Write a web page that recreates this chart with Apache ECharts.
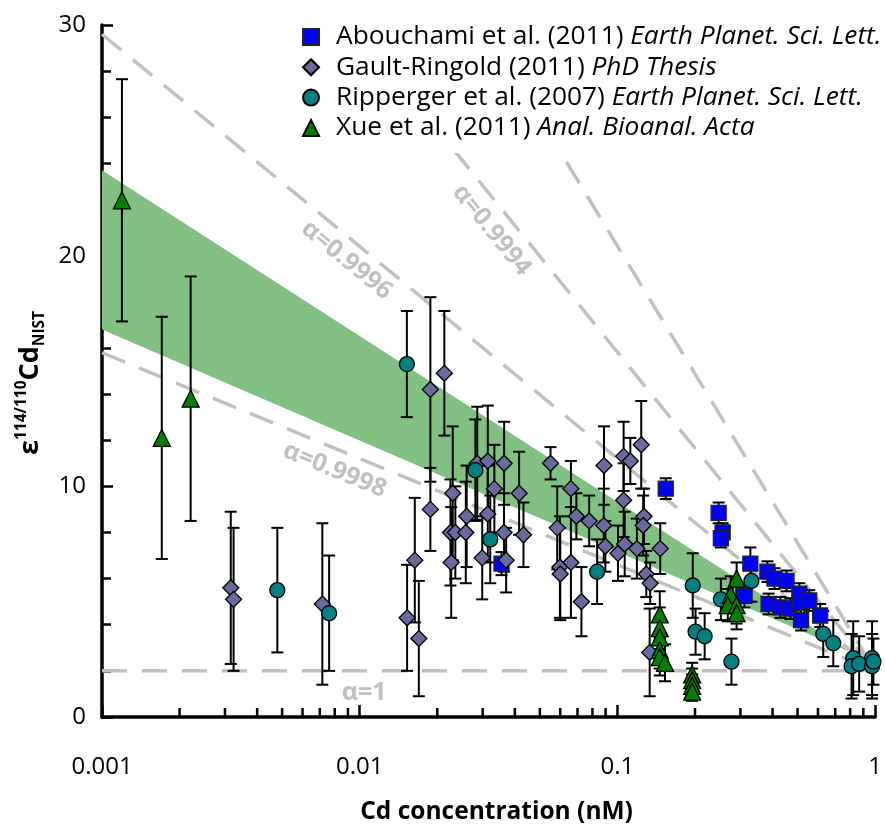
<!DOCTYPE html>
<html><head><meta charset="utf-8">
<script src="https://cdn.jsdelivr.net/npm/echarts@6/dist/echarts.min.js"></script>
<style>html,body{margin:0;padding:0;background:#fff}#c{width:885px;height:830px}</style>
</head><body><div id="c"></div>
<script>
const FONT = '"Open Sans", "Noto Sans", sans-serif';

// ---- Abouchami et al. (2011) ----
const abouConc = [0.0355, 0.154, 0.247, 0.256, 0.252, 0.328, 0.311, 0.382, 0.407, 0.453, 0.386, 0.429, 0.469, 0.508, 0.512, 0.555, 0.516, 0.612];
const abouEps  = [6.65, 9.9, 8.85, 8.0, 7.75, 6.65, 5.25, 6.3, 6.0, 5.9, 4.9, 4.75, 4.7, 5.35, 4.95, 5.05, 4.2, 4.4];
const abouErr  = [0.5, 0.45, 0.45, 0.4, 0.4, 0.7, 0.5, 0.45, 0.45, 0.45, 0.45, 0.45, 0.45, 0.45, 0.45, 0.45, 0.45, 0.5];

// ---- Gault-Ringold (2011) ----
const gaultConc = [0.00316, 0.00324, 0.00716, 0.01527, 0.01636, 0.01696, 0.0188, 0.0188, 0.0213, 0.02296,
  0.0225, 0.0235, 0.02265, 0.026, 0.0258, 0.02858, 0.0314, 0.0314, 0.02988, 0.0333,
  0.03634, 0.0363, 0.037, 0.04155, 0.0432, 0.055, 0.0584, 0.0598, 0.0600, 0.066,
  0.066, 0.0693, 0.0725, 0.0777, 0.0887, 0.0885, 0.0898, 0.1005, 0.1057, 0.1122,
  0.1057, 0.1067, 0.119, 0.1237, 0.1268, 0.1258, 0.1466, 0.1294, 0.134, 0.1334];
const gaultEps = [5.6, 5.1, 4.9, 4.3, 6.8, 3.4, 14.2, 9.0, 14.9, 9.7,
  8.0, 8.0, 6.7, 8.7, 8.0, 11.0, 11.1, 8.8, 6.9, 9.9,
  11.0, 8.0, 6.8, 9.7, 7.9, 11.0, 8.2, 6.5, 6.2, 9.9,
  6.7, 8.7, 5.0, 8.5, 10.9, 8.3, 7.4, 7.1, 11.3, 11.1,
  9.4, 7.5, 7.3, 11.8, 8.7, 8.3, 7.3, 6.2, 5.8, 2.8];
const gaultErr = [3.3, 3.1, 3.5, 2.3, 2.7, 2.5, 4.0, 1.8, 2.7, 2.9,
  2.3, 2.0, 2.4, 2.2, 2.2, 2.45, 2.4, 2.1, 1.8, 1.9,
  1.8, 1.7, 1.4, 1.8, 1.4, 0.7, 1.8, 2.2, 2.0, 1.2,
  2.4, 1.0, 1.5, 1.1, 1.7, 1.6, 1.1, 1.2, 1.5, 1.0,
  1.6, 1.4, 1.3, 1.9, 1.2, 1.3, 1.1, 1.0, 0.9, 1.9];

// ---- Ripperger et al. (2007) ----
const ripConc = [0.00479, 0.00761, 0.01524, 0.0281, 0.0321, 0.0834, 0.196, 0.201, 0.218, 0.277,
  0.252, 0.331, 0.629, 0.688, 0.822, 0.81, 0.867, 0.973, 0.973, 0.985];
const ripEps  = [5.5, 4.5, 15.3, 10.7, 7.7, 6.3, 5.7, 3.7, 3.5, 2.4,
  5.1, 5.9, 3.6, 3.2, 2.55, 2.2, 2.3, 2.55, 2.2, 2.4];
const ripErr  = [2.7, 2.5, 2.3, 2.2, 1.9, 1.4, 1.4, 1.0, 1.0, 1.0,
  0.9, 0.9, 1.0, 1.0, 1.6, 1.4, 1.2, 1.6, 1.4, 1.0];

// ---- Xue et al. (2011) ----
const xueConc = [0.001195, 0.001706, 0.002208, 0.146, 0.146, 0.146, 0.146, 0.146, 0.153,
  0.195, 0.195, 0.195, 0.195, 0.29, 0.275, 0.268, 0.29, 0.29];
const xueEps  = [22.4, 12.1, 13.8, 4.45, 3.85, 3.45, 2.9, 2.6, 2.35,
  1.85, 1.6, 1.35, 1.1, 6.0, 5.3, 4.85, 4.85, 4.5];
const xueErr  = [5.25, 5.25, 5.3, 1.0, 0.9, 0.9, 0.8, 0.8, 0.8,
  0.5, 0.5, 0.5, 0.4, 0.7, 0.8, 0.7, 0.8, 0.7];

// ---- Rayleigh fractionation lines (concentration, epsilon endpoints) ----
const alphaNames = ['α=1', 'α=0.9998', 'α=0.9996', 'α=0.9994', ''];
const alphaLines = [
  [[0.001, 2], [1, 2]],
  [[0.001, 15.8], [1, 2]],
  [[0.001, 29.6], [1, 2]],
  [[0.0094, 30], [1, 2]],
  [[0.0302, 30], [1, 2]]
];
const alphaLabelAt = [[0.0104, 1.05], [0.0080, 10.7], [0.0089, 19.8], [0.0325, 21.1]];

// ---- green envelope ----
const bandTop = [[0.001, 23.7], [0.81, 2.8]];
const bandBottom = [[0.001, 16.8], [0.81, 2.8]];

// ---- axes ----
const xTickValues = [0.001, 0.01, 0.1, 1];
const xTickLabels = ['0.001', '0.01', '0.1', '1'];
const xMinorTicks = [0.002,0.003,0.004,0.005,0.006,0.007,0.008,0.009,
  0.02,0.03,0.04,0.05,0.06,0.07,0.08,0.09,
  0.2,0.3,0.4,0.5,0.6,0.7,0.8,0.9];

const legendText = {
  'Abouchami': '{r|Abouchami et al. (2011) }{i|Earth Planet. Sci. Lett.}',
  'Gault': '{r|Gault-Ringold (2011) }{i|PhD Thesis}',
  'Ripperger': '{r|Ripperger et al. (2007) }{i|Earth Planet. Sci. Lett.}',
  'Xue': '{r|Xue et al. (2011) }{i|Anal. Bioanal. Acta}'
};

function pts(c, e) { return c.map((v, i) => [v, e[i]]); }
function errs(c, e, s) { return c.map((v, i) => [v, e[i] - s[i], e[i] + s[i]]); }

function errRender(params, api) {
  const x = api.value(0);
  const a = api.coord([x, api.value(1)]);
  const b = api.coord([x, api.value(2)]);
  const hw = 6;
  const st = { stroke: '#000', lineWidth: 2 };
  return { type: 'group', children: [
    { type: 'line', shape: { x1: a[0], y1: a[1], x2: b[0], y2: b[1] }, style: st },
    { type: 'line', shape: { x1: a[0] - hw, y1: a[1], x2: a[0] + hw, y2: a[1] }, style: st },
    { type: 'line', shape: { x1: b[0] - hw, y1: b[1], x2: b[0] + hw, y2: b[1] }, style: st }
  ]};
}
function errSeries(name, data) {
  return { name: name + '_err', type: 'custom', renderItem: errRender, data: data,
    encode: { x: 0, y: [1, 2] }, z: 3, silent: true };
}

const series = [];
// band
series.push({ name: 'band', type: 'custom', z: 1, silent: true, data: [bandTop[0]],
  encode: { x: 0, y: 1 },
  renderItem: (p, api) => {
    const poly = [bandTop[0], bandTop[1], bandBottom[1], bandBottom[0]].map(q => api.coord(q));
    return { type: 'polygon', shape: { points: poly }, style: { fill: '#80c080' } };
  }
});
// alpha lines
alphaLines.forEach((ln, i) => {
  series.push({ name: 'alpha' + i, type: 'line', data: ln, symbol: 'none', z: 2, silent: true,
    lineStyle: { color: '#c0c0c0', width: 3.5, type: [25, 15] } });
});
// alpha labels
series.push({ name: 'alphaLabels', type: 'custom', z: 2, silent: true, data: alphaLabelAt,
  encode: { x: 0, y: 1 },
  renderItem: (params, api) => {
    const i = params.dataIndex;
    const p = api.coord(alphaLabelAt[i]);
    const a = api.coord(alphaLines[i][0]);
    const b = api.coord(alphaLines[i][1]);
    const rot = Math.atan2(-(b[1] - a[1]), b[0] - a[0]);
    return { type: 'text', x: p[0], y: p[1], rotation: rot,
      style: { text: alphaNames[i], fill: '#c0c0c0', font: 'bold 25px ' + FONT, align: 'center', verticalAlign: 'middle' } };
  }
});
// minor x ticks
series.push({ name: 'xminor', type: 'custom', z: 5, silent: true, data: xMinorTicks.map(v => [v, 0]),
  encode: { x: 0, y: 1 },
  renderItem: (params, api) => {
    const p = api.coord([api.value(0), 0]);
    return { type: 'line', shape: { x1: p[0], y1: p[1], x2: p[0], y2: p[1] - 9 },
      style: { stroke: '#000', lineWidth: 2.5 } };
  }
});
// error bars
series.push(errSeries('Abouchami', errs(abouConc, abouEps, abouErr)));
series.push(errSeries('Gault', errs(gaultConc, gaultEps, gaultErr)));
series.push(errSeries('Ripperger', errs(ripConc, ripEps, ripErr)));
series.push(errSeries('Xue', errs(xueConc, xueEps, xueErr)));
// markers
series.push({ name: 'Abouchami', type: 'scatter', symbol: 'rect', symbolSize: 15, z: 4,
  data: pts(abouConc, abouEps), itemStyle: { color: '#0000ff', borderColor: '#222', borderWidth: 1.3, opacity: 1 } });
series.push({ name: 'Gault', type: 'scatter', symbol: 'diamond', symbolSize: 16, z: 4,
  data: pts(gaultConc, gaultEps), itemStyle: { color: '#6a6a9e', borderColor: '#000', borderWidth: 1.3, opacity: 1 } });
series.push({ name: 'Ripperger', type: 'scatter', symbol: 'circle', symbolSize: 15, z: 4,
  data: pts(ripConc, ripEps), itemStyle: { color: '#008080', borderColor: '#000', borderWidth: 1.3, opacity: 1 } });
series.push({ name: 'Xue', type: 'scatter', symbol: 'triangle', symbolSize: 17, z: 4,
  data: pts(xueConc, xueEps), itemStyle: { color: '#008000', borderColor: '#000', borderWidth: 1.3, opacity: 1 } });

const chart = echarts.init(document.getElementById('c'), null, { renderer: 'canvas' });
chart.setOption({
  animation: false,
  backgroundColor: '#fff',
  grid: { left: 102, right: 7, top: 25, bottom: 108, containLabel: false },
  legend: {
    orient: 'vertical', left: 302, top: 19,
    data: ['Abouchami', 'Gault', 'Ripperger', 'Xue'],
    backgroundColor: '#fff', padding: [5, 0, 12, 0],
    itemWidth: 16, itemHeight: 16, itemGap: 4.3,
    selectedMode: false,
    formatter: n => legendText[n],
    textStyle: { fontSize: 26.3, color: '#000', fontFamily: FONT, lineHeight: 26,
      rich: {
        r: { fontSize: 26.3, color: '#000', fontFamily: FONT, lineHeight: 26, padding: [0, 0, 0, 12] },
        i: { fontSize: 26.3, color: '#000', fontFamily: FONT, fontStyle: 'italic', lineHeight: 26 }
      } }
  },
  xAxis: {
    type: 'log', logBase: 10, min: 0.001, max: 1,
    axisLine: { show: true, onZero: false, lineStyle: { color: '#000', width: 3.5 } },
    axisTick: { show: true, inside: true, length: 12, lineStyle: { color: '#000', width: 2.5 } },
    axisLabel: { fontSize: 24, color: '#000', fontFamily: FONT, margin: 38,
      formatter: v => {
        const i = xTickValues.findIndex(t => Math.abs(Math.log10(t) - Math.log10(v)) < 1e-6);
        return i >= 0 ? xTickLabels[i] : '';
      } },
    splitLine: { show: false },
    name: 'Cd concentration (nM)', nameLocation: 'middle', nameGap: 83,
    nameTextStyle: { fontSize: 24.5, fontWeight: 'bold', color: '#000', fontFamily: FONT, padding: [0, 0, 0, 16] }
  },
  yAxis: {
    type: 'value', min: 0, max: 30, interval: 10,
    axisLine: { show: true, lineStyle: { color: '#000', width: 3.5 } },
    axisTick: { show: true, inside: true, length: 11, lineStyle: { color: '#000', width: 2.5 } },
    minorTick: { show: true, splitNumber: 5, length: 9, lineStyle: { color: '#000', width: 2.5 } },
    axisLabel: { fontSize: 24, color: '#000', fontFamily: FONT, margin: 16 },
    splitLine: { show: false },
    name: '{e|ε}{sup|114/110}{cd|Cd}{sub|NIST}',
    nameLocation: 'middle', nameRotate: 90, nameGap: 46,
    nameTextStyle: { padding: [0, 24, 0, 0],
      rich: {
        e: { fontSize: 27, fontWeight: 'bold', color: '#000', fontFamily: FONT, lineHeight: 34 },
        sup: { fontSize: 15.5, fontWeight: 'bold', color: '#000', fontFamily: FONT, verticalAlign: 'top', lineHeight: 34 },
        cd: { fontSize: 27, fontWeight: 'bold', color: '#000', fontFamily: FONT, lineHeight: 34 },
        sub: { fontSize: 15.5, fontWeight: 'bold', color: '#000', fontFamily: FONT, verticalAlign: 'bottom', lineHeight: 34 }
      } }
  },
  series: series
});
</script>
</body></html>
